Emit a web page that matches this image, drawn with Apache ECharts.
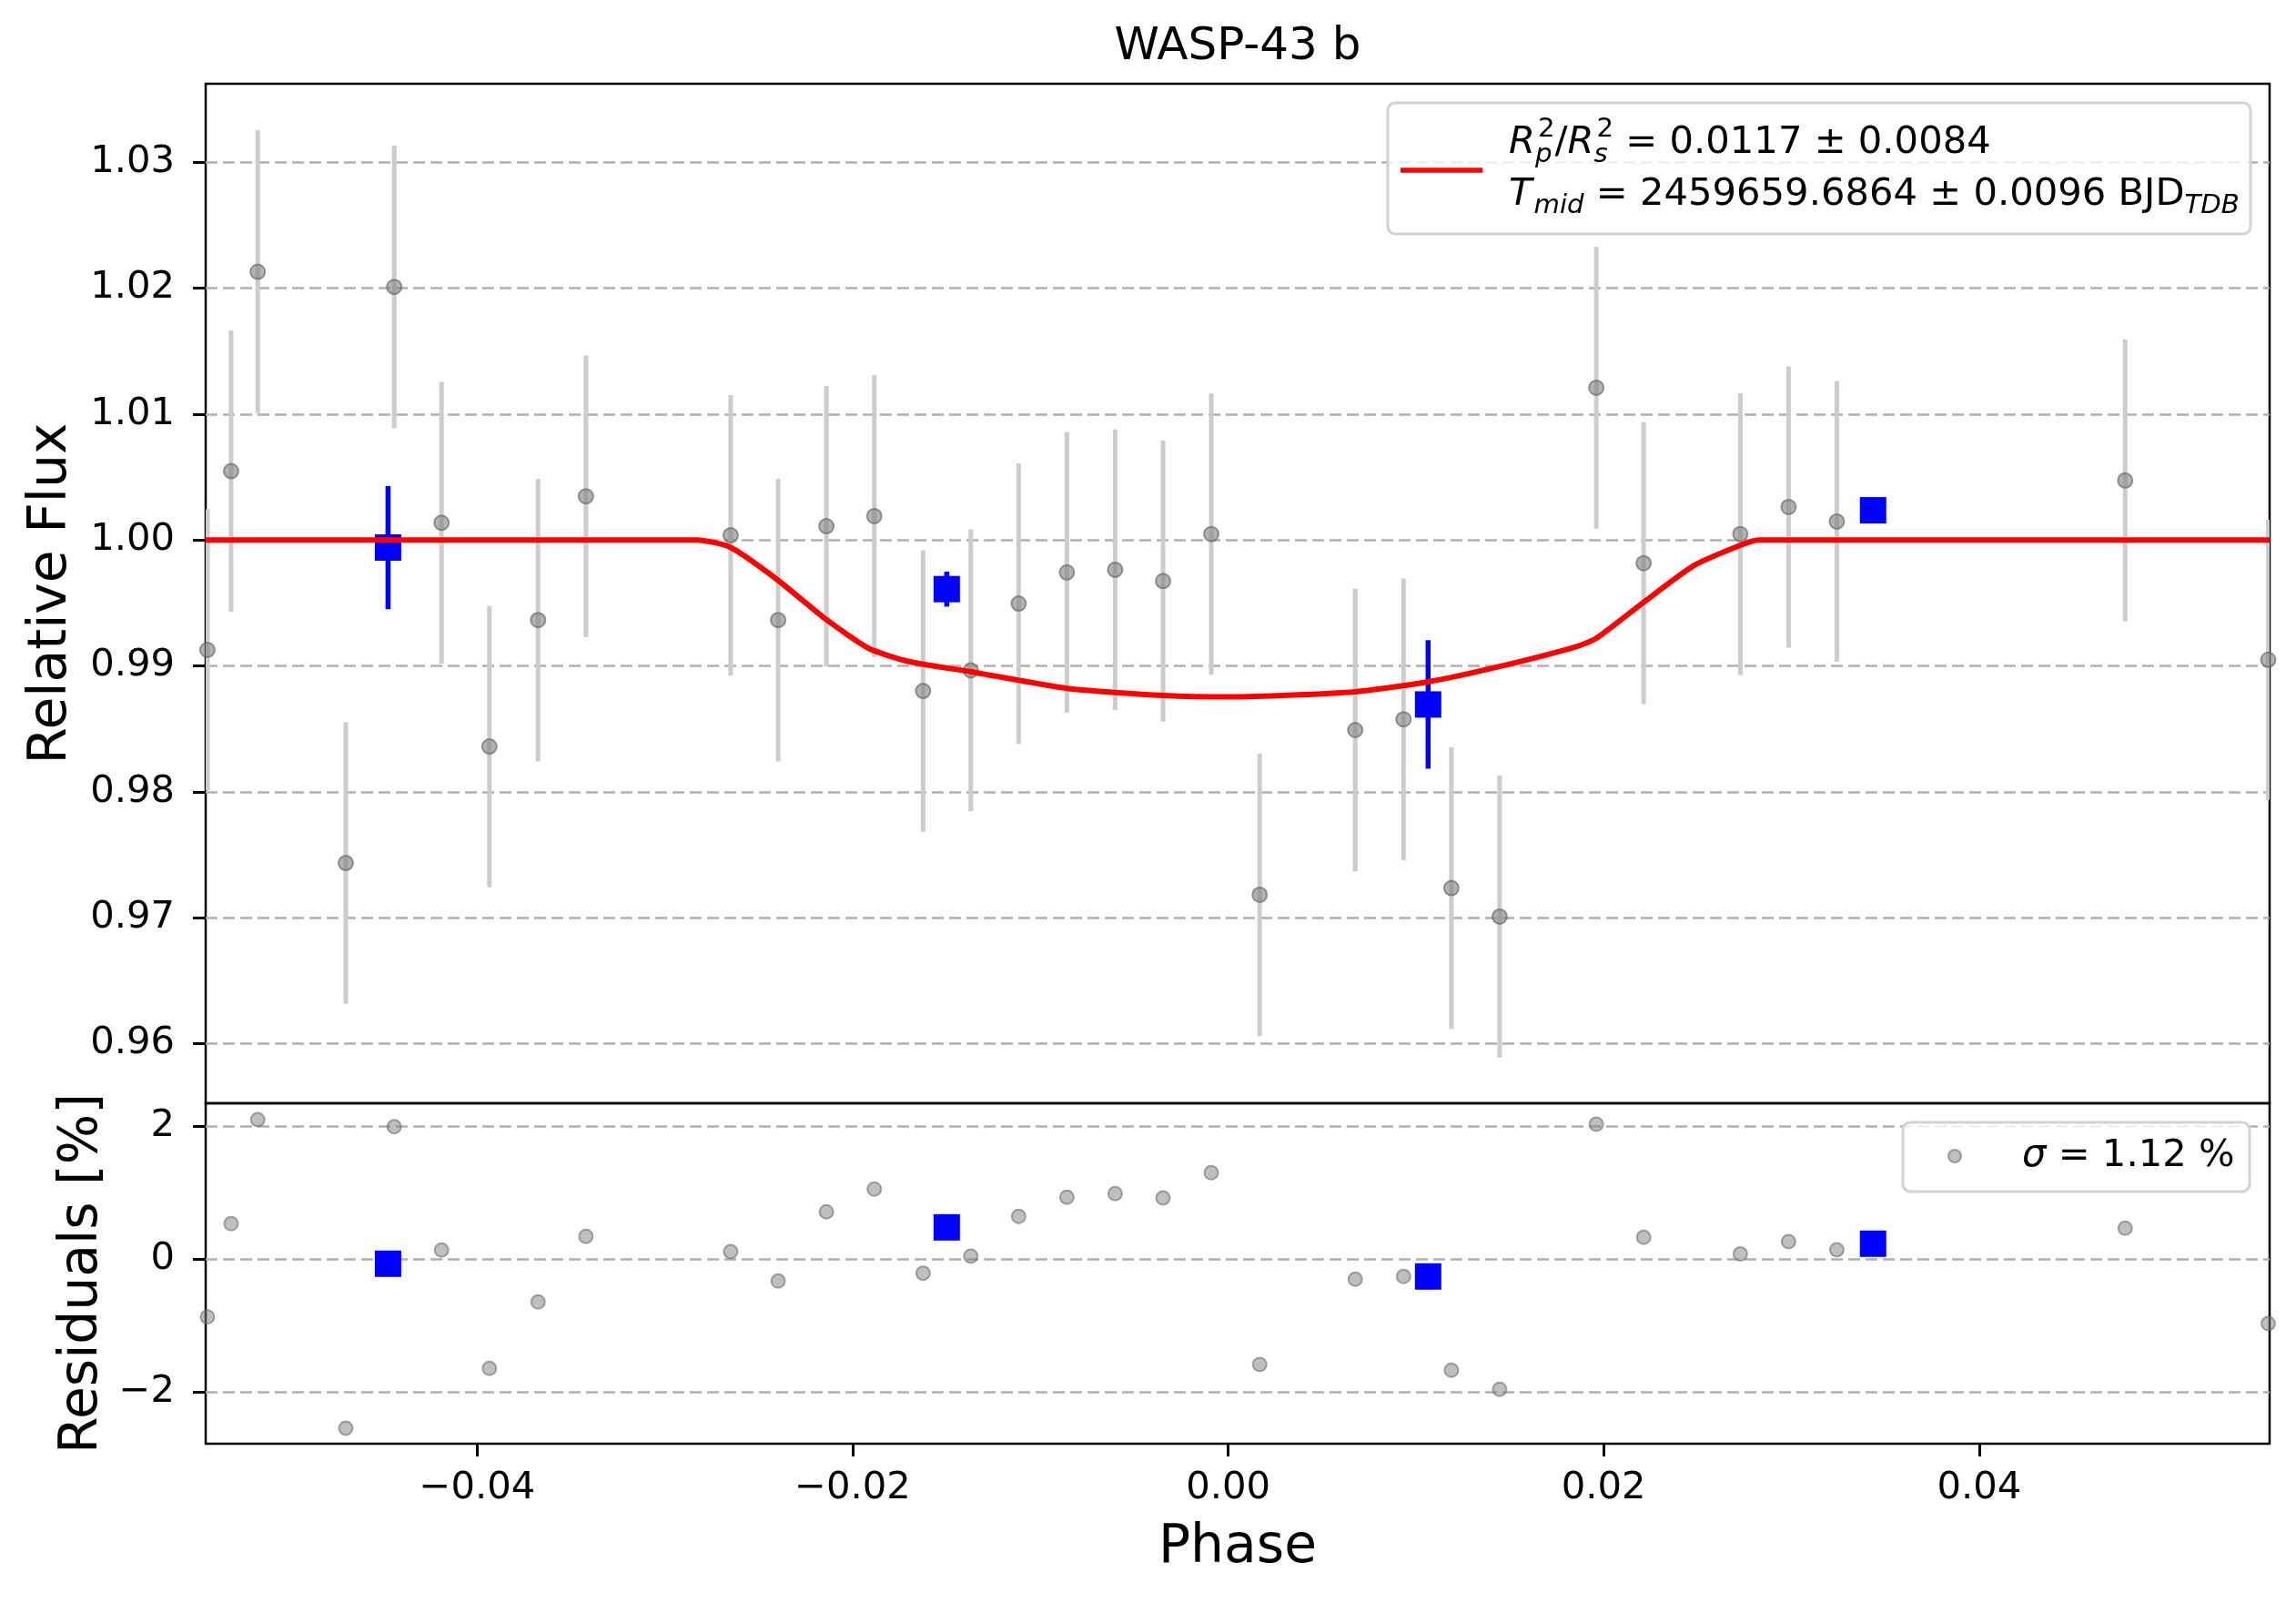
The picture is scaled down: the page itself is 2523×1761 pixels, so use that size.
<!DOCTYPE html>
<html><head><meta charset="utf-8">
<script src="https://cdn.jsdelivr.net/npm/echarts@6/dist/echarts.min.js"></script>
<style>html,body{margin:0;padding:0;background:#fff}#c{width:2523px;height:1761px}</style>
</head><body><div id="c"></div>
<script>
// ---------- data ----------
const phaseTicks = [-0.04, -0.02, 0.00, 0.02, 0.04];
const fluxTicks = [0.96, 0.97, 0.98, 0.99, 1.00, 1.01, 1.02, 1.03];
const residTicks = [-2, 0, 2];

const phase = [-0.05437, -0.05311, -0.05169, -0.04700, -0.04442, -0.04190, -0.03935, -0.03676, -0.03421,
  -0.02650, -0.02397, -0.02140, -0.01885, -0.01625, -0.01371, -0.01116, -0.00859, -0.00602, -0.00347, -0.00090,
  0.00168, 0.00677, 0.00934, 0.01189, 0.01446, 0.01961, 0.02213, 0.02728, 0.02985, 0.03242, 0.04778, 0.05540];
const flux = [0.99127, 1.00547, 1.02130, 0.97435, 1.02010, 1.00137, 0.98360, 0.99364, 1.00347,
  1.00037, 0.99364, 1.00110, 1.00190, 0.98801, 0.98965, 0.99495, 0.99743, 0.99764, 0.99674, 1.00047,
  0.97183, 0.98491, 0.98576, 0.97236, 0.97010, 1.01209, 0.99816, 1.00047, 1.00262, 1.00147, 1.00473, 0.99049];
const fluxErr = [0.01117, 0.01117, 0.01125, 0.01117, 0.01122, 0.01119, 0.01117, 0.01122, 0.01117,
  0.01114, 0.01122, 0.01114, 0.01119, 0.01117, 0.01119, 0.01114, 0.01114, 0.01114, 0.01117, 0.01117,
  0.01122, 0.01122, 0.01119, 0.01119, 0.01119, 0.01119, 0.01119, 0.01119, 0.01117, 0.01114, 0.01119, 0.01112];
const resid = [-0.868, 0.534, 2.100, -2.544, 1.995, 0.137, -1.644, -0.644, 0.342,
  0.114, -0.329, 0.712, 1.055, -0.210, 0.045, 0.644, 0.932, 0.986, 0.922, 1.301,
  -1.585, -0.301, -0.260, -1.671, -1.959, 2.030, 0.329, 0.078, 0.265, 0.141, 0.466, -0.968];

const binPhase = [-0.04475, -0.01499, 0.01065, 0.03435];
const binFlux = [0.99940, 0.99610, 0.98694, 1.00236];
const binErr = [0.00489, 0.00139, 0.00510, 0.0];
const binResid = [-0.068, 0.479, -0.260, 0.233];

const modelPhase = [-0.05446, -0.02830, -0.02654, -0.02407, -0.02147, -0.01913, -0.01695, -0.01371, -0.00859,
  -0.00347, 0.00016, 0.00676, 0.01065, 0.01446, 0.01847, 0.01958, 0.02213, 0.02478, 0.02728, 0.02824, 0.05547];
const modelFlux = [1.00000, 1.00000, 0.99944, 0.99691, 0.99375, 0.99138, 0.99033, 0.98954, 0.98822,
  0.98765, 0.98754, 0.98795, 0.98874, 0.98996, 0.99150, 0.99217, 0.99506, 0.99795, 0.99958, 1.00000, 1.00000];

// ---------- helpers ----------
const FF = '"DejaVu Sans", sans-serif';
const mctx = document.createElement('canvas').getContext('2d');
function tw(t, size, it) { mctx.font = (it ? 'italic ' : '') + size + 'px ' + FF; return mctx.measureText(t).width; }
function txt(t, x, base, size, it) {
  return { type: 'text', z: 110, x: x, y: base - 0.3 * size,
    style: { text: t, font: (it ? 'italic ' : '') + size + 'px ' + FF, fill: '#000', align: 'left', verticalAlign: 'middle' } };
}
function mathRow(x, base, parts) {
  const els = [];
  for (const p of parts) {
    if (p.stack) {
      let w = 0;
      for (const q of p.stack) {
        els.push(txt(q.t, x + (q.dx || 0), base + q.dy, q.size, q.it));
        w = Math.max(w, tw(q.t, q.size, q.it) + (q.dx || 0));
      }
      x += w;
    } else {
      els.push(txt(p.t, x + (p.dx || 0), base + (p.dy || 0), p.size, p.it));
      x += tw(p.t, p.size, p.it) + (p.dx || 0);
    }
  }
  return els;
}
const fmtMinus = s => s.replace('-', '\u2212');
const B = 41.7, S = 29.2;

const graphic = [];
graphic.push({ type: 'text', z: 110, x: 1360, y: 52, style: { text: 'WASP-43 b', font: '50px ' + FF, fill: '#000', align: 'center', verticalAlign: 'middle' } });
graphic.push({ type: 'text', z: 110, x: 57, y: 652, rotation: Math.PI / 2, style: { text: 'Relative Flux', font: '58.3px ' + FF, fill: '#000', align: 'center', verticalAlign: 'middle' } });
graphic.push({ type: 'text', z: 110, x: 91, y: 1399, rotation: Math.PI / 2, style: { text: 'Residuals [%]', font: '58.3px ' + FF, fill: '#000', align: 'center', verticalAlign: 'middle' } });
graphic.push({ type: 'text', z: 110, x: 1360, y: 1701, style: { text: 'Phase', font: '58.3px ' + FF, fill: '#000', align: 'center', verticalAlign: 'middle' } });
// main legend
graphic.push({ type: 'rect', z: 100, shape: { x: 1525, y: 113, width: 948, height: 144, r: 8 }, style: { fill: 'rgba(255,255,255,0.8)', stroke: '#d3d3d3', lineWidth: 3 } });
graphic.push({ type: 'line', z: 105, shape: { x1: 1539, y1: 187, x2: 1629, y2: 187 }, style: { stroke: '#ff0000', lineWidth: 5.5 } });
mathRow(1658, 170, [
  { t: 'R', size: B, it: true },
  { stack: [{ t: '2', size: S, dy: -19, dx: 3 }, { t: 'p', size: S, dy: 9, it: true }] },
  { t: '/', size: B },
  { t: 'R', size: B, it: true },
  { stack: [{ t: '2', size: S, dy: -19, dx: 3 }, { t: 's', size: S, dy: 9, it: true }] },
  { t: ' = 0.0117 \u00b1 0.0084', size: B }
]).forEach(e => graphic.push(e));
mathRow(1658, 227, [
  { t: 'T', size: B, it: true },
  { t: 'mid', size: S, it: true, dy: 8, dx: 2 },
  { t: ' = 2459659.6864 \u00b1 0.0096 BJD', size: B },
  { t: 'TDB', size: S, it: true, dy: 8 }
]).forEach(e => graphic.push(e));
// residual legend
graphic.push({ type: 'rect', z: 100, shape: { x: 2091, y: 1233, width: 381, height: 76, r: 8 }, style: { fill: 'rgba(255,255,255,0.8)', stroke: '#d3d3d3', lineWidth: 3 } });
graphic.push({ type: 'circle', z: 105, shape: { cx: 2148, cy: 1270, r: 7 }, style: { fill: 'rgba(128,128,128,0.5)', stroke: 'rgba(110,110,110,0.6)', lineWidth: 2 } });
mathRow(2222, 1283, [
  { t: '\u03c3', size: B, it: true },
  { t: ' = 1.12 %', size: B }
]).forEach(e => graphic.push(e));

function errBar(color, width) {
  return function (params, api) {
    const x = api.value(0), y = api.value(1), e = api.value(2);
    if (!e) return null;
    const a = api.coord([x, y + e]), b = api.coord([x, y - e]);
    return { type: 'line', shape: { x1: a[0], y1: a[1], x2: b[0], y2: b[1] }, style: { stroke: color, lineWidth: width } };
  };
}

const tickStyle = { show: true, length: 14, lineStyle: { color: '#000', width: 3 } };
const labelStyle = { fontSize: B, fontFamily: FF, color: '#000' };
const gridLine = { show: true, lineStyle: { color: '#b0b0b0', type: [13, 6], width: 2.5 } };

const option = {
  animation: false,
  backgroundColor: '#fff',
  graphic: graphic,
  grid: [
    { left: 226, top: 92, width: 2268, height: 1120, show: true, borderColor: '#000', borderWidth: 2.5, backgroundColor: 'rgba(0,0,0,0)' },
    { left: 226, top: 1212, width: 2268, height: 374, show: true, borderColor: '#000', borderWidth: 2.5, backgroundColor: 'rgba(0,0,0,0)' }
  ],
  xAxis: [
    { gridIndex: 0, type: 'value', min: -0.054464, max: 0.055473, axisLine: { show: false, onZero: false },
      axisTick: { show: false }, axisLabel: { show: false }, splitLine: { show: false } },
    { gridIndex: 1, type: 'value', min: -0.054464, max: 0.055473, axisLine: { show: false, onZero: false },
      axisTick: Object.assign({ customValues: phaseTicks }, tickStyle),
      axisLabel: Object.assign({ customValues: phaseTicks, margin: 28, formatter: v => fmtMinus(v.toFixed(2)) }, labelStyle),
      splitLine: { show: false } }
  ],
  yAxis: [
    { gridIndex: 0, type: 'value', min: 0.955273, max: 1.036231, axisLine: { show: false, onZero: false },
      axisTick: Object.assign({ customValues: fluxTicks }, tickStyle),
      axisLabel: Object.assign({ customValues: fluxTicks, margin: 34, formatter: v => v.toFixed(2) }, labelStyle),
      splitLine: gridLine },
    { gridIndex: 1, type: 'value', min: -2.7767, max: 2.3466, axisLine: { show: false, onZero: false },
      axisTick: Object.assign({ customValues: residTicks }, tickStyle),
      axisLabel: Object.assign({ customValues: residTicks, margin: 34, formatter: v => fmtMinus(String(Math.round(v))) }, labelStyle),
      splitLine: gridLine }
  ],
  series: [
    { type: 'custom', xAxisIndex: 0, yAxisIndex: 0, z: 2, clip: true, renderItem: errBar('#cccccc', 5),
      data: phase.map((p, i) => [p, flux[i], fluxErr[i]]) },
    { type: 'scatter', xAxisIndex: 0, yAxisIndex: 0, z: 3, symbol: 'circle', symbolSize: 16,
      itemStyle: { color: 'rgba(128,128,128,0.6)', borderColor: 'rgba(100,100,100,0.65)', borderWidth: 2, opacity: 1 },
      data: phase.map((p, i) => [p, flux[i]]) },
    { type: 'custom', xAxisIndex: 0, yAxisIndex: 0, z: 4, clip: true, renderItem: errBar('#0000ff', 5.5),
      data: binPhase.map((p, i) => [p, binFlux[i], binErr[i]]) },
    { type: 'scatter', xAxisIndex: 0, yAxisIndex: 0, z: 5, symbol: 'rect', symbolSize: 29,
      itemStyle: { color: '#0000ff', opacity: 1 }, data: binPhase.map((p, i) => [p, binFlux[i]]) },
    { type: 'line', xAxisIndex: 0, yAxisIndex: 0, z: 6, symbol: 'none', smooth: 0.2,
      lineStyle: { color: '#ff0000', width: 6 }, data: modelPhase.map((p, i) => [p, modelFlux[i]]) },
    { type: 'scatter', xAxisIndex: 1, yAxisIndex: 1, z: 3, symbol: 'circle', symbolSize: 15,
      itemStyle: { color: 'rgba(128,128,128,0.5)', borderColor: 'rgba(110,110,110,0.6)', borderWidth: 2, opacity: 1 },
      data: phase.map((p, i) => [p, resid[i]]) },
    { type: 'scatter', xAxisIndex: 1, yAxisIndex: 1, z: 5, symbol: 'rect', symbolSize: 29,
      itemStyle: { color: '#0000ff', opacity: 1 }, data: binPhase.map((p, i) => [p, binResid[i]]) }
  ]
};
const chart = echarts.init(document.getElementById('c'), null, { renderer: 'canvas', width: 2523, height: 1761 });
chart.setOption(option);
</script>
</body></html>
